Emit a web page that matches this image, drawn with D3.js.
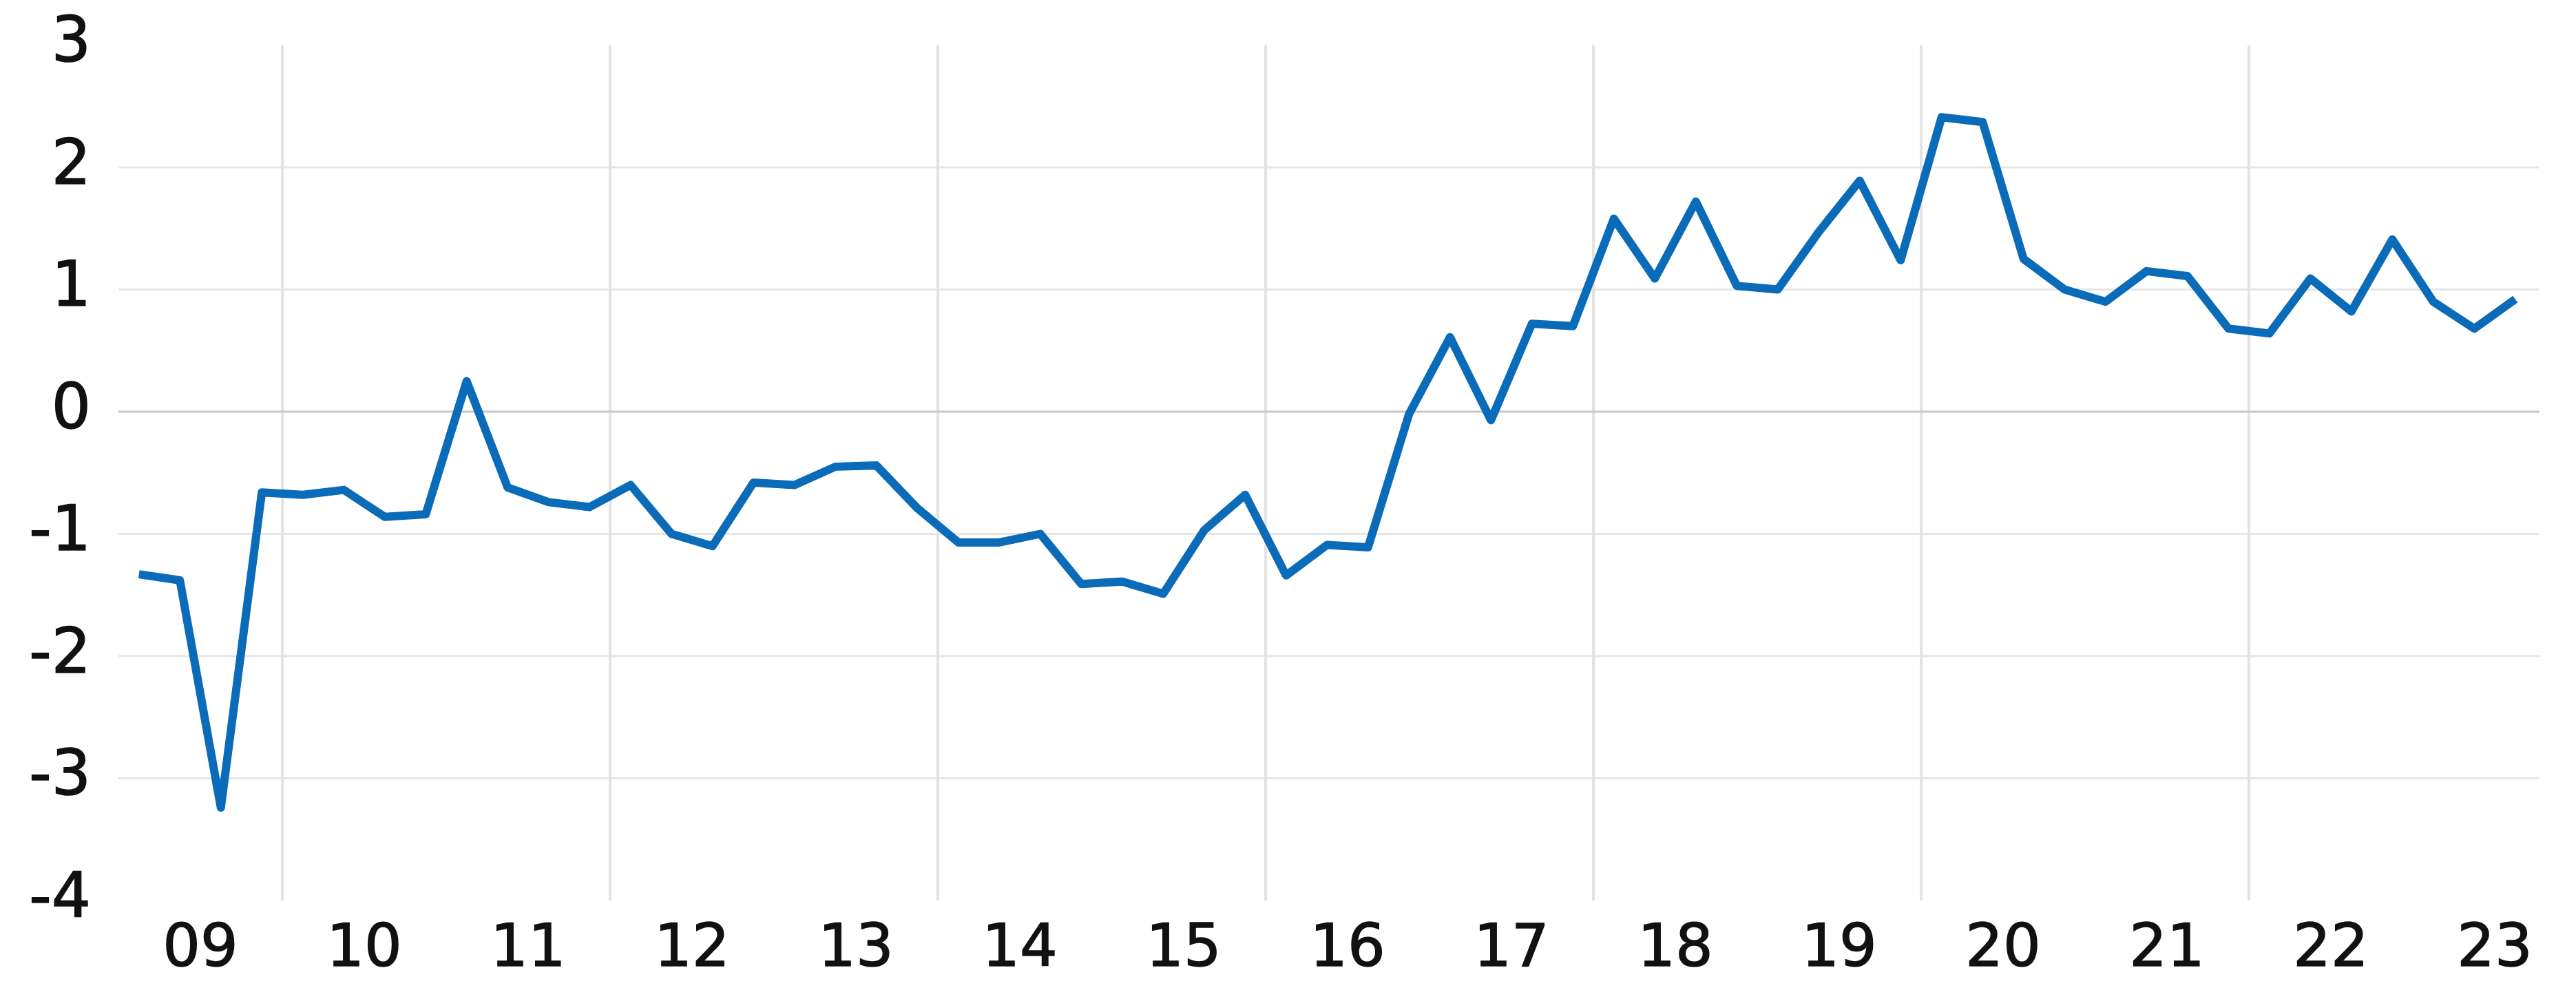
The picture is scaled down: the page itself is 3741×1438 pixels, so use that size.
<!DOCTYPE html>
<html lang="en">
  <head>
    <meta charset="utf-8">
    <title>Quarterly series 2009-2023</title>
    <script type="text/javascript" src="https://cdn.jsdelivr.net/npm/d3@7"></script>
    <style type="text/css">
     body { margin: 0; background: #ffffff; }
     svg { display: block; }
     .lbl { font-family: "DejaVu Sans", sans-serif; fill: #111111; stroke: #111111; stroke-width: 1.5px; }
    </style>
  </head>
  <body>
    <script type="text/javascript">

     // year tick labels and y tick labels
     let years = ["09", "10", "11", "12", "13", "14", "15", "16", "17", "18", "19", "20", "21", "22", "23"];
     let yTicks = [3, 2, 1, 0, -1, -2, -3, -4];
     let yGrid = [2, 1, -1, -2, -3];                  // light lines, zero line drawn on its own
     let yearLines = ["10", "12", "14", "16", "18", "20", "22"];   // vertical lines at the start of these years

     // quarterly values, 2009Q1 .. 2023Q3
     let values = [
       -1.33, -1.38, -3.24, -0.66,      // 09
       -0.68, -0.64, -0.86, -0.84,      // 10
        0.25, -0.62, -0.74, -0.78,      // 11
       -0.60, -1.00, -1.10, -0.58,      // 12
       -0.60, -0.45, -0.44, -0.79,      // 13
       -1.07, -1.07, -1.00, -1.41,      // 14
       -1.39, -1.49, -0.97, -0.68,      // 15
       -1.34, -1.09, -1.11, -0.02,      // 16
        0.61, -0.07,  0.72,  0.70,      // 17
        1.58,  1.09,  1.72,  1.03,      // 18
        1.00,  1.47,  1.89,  1.24,      // 19
        2.41,  2.37,  1.25,  1.00,      // 20
        0.90,  1.15,  1.11,  0.68,      // 21
        0.64,  1.09,  0.82,  1.41,      // 22
        0.90,  0.68,  0.92               // 23
     ];

     // category keys, one per quarter
     let quarters = [];
     years.forEach(yy => { for (let q = 1; q <= 4; q++) quarters.push(yy + "Q" + q); });
     quarters = quarters.slice(0, values.length);

     let w = 3741;
     let h = 1438;
     let margin = {top: 65.5, right: 54, bottom: 130, left: 172};

     let svg = d3.select("body").append("svg")
		 .attr("width", w)
		 .attr("height", h);

     let xScale = d3.scaleBand()
		    .domain(quarters)
		    .range([margin.left, margin.left + quarters.length * 59.5]);
     let bw = xScale.bandwidth();
     let gridRight = xScale.range()[1] + 5;

     let yScale = d3.scaleLinear()
		    .domain([-4, 3])
		    .range([h - margin.bottom, margin.top]);

     // horizontal grid
     svg.selectAll("line.hgrid")
	.data(yGrid)
	.enter()
	.append("line")
	.attr("class", "hgrid")
	.attr("x1", margin.left)
	.attr("x2", gridRight)
	.attr("y1", d => yScale(d))
	.attr("y2", d => yScale(d))
	.attr("stroke", "#e6e6e6")
	.attr("stroke-width", 3);

     // vertical grid, every second year
     svg.selectAll("line.vgrid")
	.data(yearLines)
	.enter()
	.append("line")
	.attr("class", "vgrid")
	.attr("x1", d => xScale(d + "Q1"))
	.attr("x2", d => xScale(d + "Q1"))
	.attr("y1", yScale(3))
	.attr("y2", yScale(-4))
	.attr("stroke", "#e3e3e3")
	.attr("stroke-width", 4);

     // zero line
     svg.append("line")
	.attr("x1", margin.left)
	.attr("x2", gridRight)
	.attr("y1", yScale(0))
	.attr("y2", yScale(0))
	.attr("stroke", "#c6c6c6")
	.attr("stroke-width", 3);

     // the series
     let line = d3.line()
		  .x((d, i) => xScale(quarters[i]) + bw / 2)
		  .y(d => yScale(d));

     svg.append("path")
	.datum(values)
	.attr("d", line)
	.attr("fill", "none")
	.attr("stroke", "#0a6bb8")
	.attr("stroke-width", 12)
	.attr("stroke-linejoin", "round")
	.attr("stroke-linecap", "butt");

     // y labels
     svg.selectAll("text.ylab")
	.data(yTicks)
	.enter()
	.append("text")
	.attr("class", "lbl ylab")
	.attr("transform", d => "translate(132," + (yScale(d) - 8) + ")")
	.attr("text-anchor", "end")
	.attr("dominant-baseline", "central")
	.attr("font-size", "90px")
	.text(d => d);

     // year labels, centred on each year
     svg.selectAll("text.xlab")
	.data(years)
	.enter()
	.append("text")
	.attr("class", "lbl xlab")
	.attr("transform", d => "translate(" + (xScale(d + "Q1") + 2 * bw) + ",1373)")
	.attr("text-anchor", "middle")
	.attr("dominant-baseline", "central")
	.attr("font-size", "86px")
	.text(d => d);
    </script>
  </body>
</html>
